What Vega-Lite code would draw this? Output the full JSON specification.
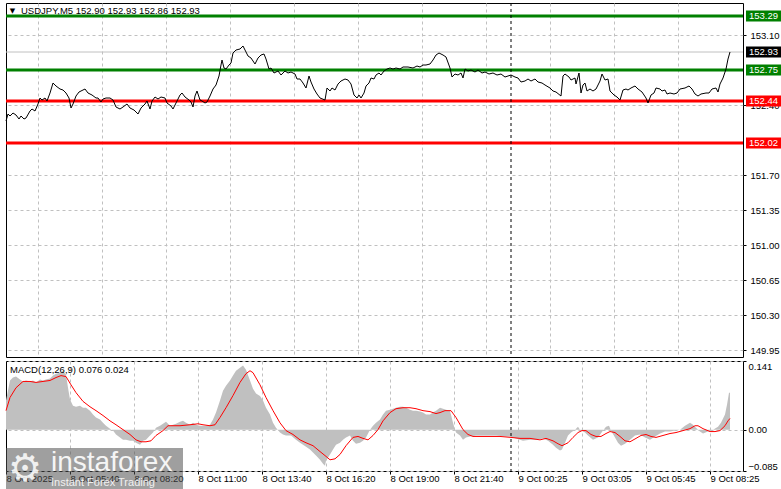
{
  "$schema": "https://vega.github.io/schema/vega-lite/v6.json",
  "background": "white",
  "padding": {"left": 3, "top": 2, "right": 0, "bottom": 0},
  "spacing": 2,
  "config": {
    "view": {"stroke": "#000000", "strokeWidth": 1},
    "font": "Liberation Sans",
    "axis": {"labelFont": "Liberation Sans", "labelFontSize": 9.5, "labelColor": "#000000", "gridColor": "#c0c0c0", "gridDash": [3, 3], "gridWidth": 1, "tickColor": "#000000", "domain": false, "labelOverlap": false},
    "text": {"font": "Liberation Sans", "fontSize": 9.5}
  },
  "datasets": {
    "price": [
      {"t":0,"v":152.24},{"t":1,"v":152.31},{"t":2,"v":152.29},{"t":3.5,"v":152.32},{"t":5,"v":152.30},{"t":6.5,"v":152.26},{"t":7.5,"v":152.29},{"t":9,"v":152.26},{"t":10,"v":152.27},{"t":12,"v":152.34},{"t":13,"v":152.36},{"t":14.5,"v":152.34},{"t":16,"v":152.41},{"t":17,"v":152.47},{"t":18,"v":152.45},{"t":19.5,"v":152.47},{"t":20.5,"v":152.44},{"t":22,"v":152.52},{"t":23.5,"v":152.62},{"t":25,"v":152.59},{"t":27,"v":152.56},{"t":28.5,"v":152.55},{"t":30,"v":152.52},{"t":31.5,"v":152.47},{"t":32.5,"v":152.37},{"t":33.5,"v":152.41},{"t":35,"v":152.49},{"t":36.5,"v":152.53},{"t":37.5,"v":152.54},{"t":39.5,"v":152.56},{"t":41,"v":152.52},{"t":43,"v":152.50},{"t":45,"v":152.47},{"t":46,"v":152.47},{"t":47.5,"v":152.43},{"t":48.5,"v":152.46},{"t":50,"v":152.47},{"t":52,"v":152.47},{"t":53.5,"v":152.45},{"t":55,"v":152.38},{"t":57,"v":152.36},{"t":58.5,"v":152.38},{"t":60.5,"v":152.41},{"t":62,"v":152.37},{"t":64,"v":152.35},{"t":66,"v":152.31},{"t":67.5,"v":152.37},{"t":69.5,"v":152.41},{"t":70.5,"v":152.44},{"t":72,"v":152.36},{"t":73,"v":152.44},{"t":74.5,"v":152.48},{"t":76,"v":152.46},{"t":77.5,"v":152.48},{"t":79.5,"v":152.47},{"t":80.5,"v":152.42},{"t":82.5,"v":152.39},{"t":83.5,"v":152.36},{"t":85,"v":152.42},{"t":87,"v":152.50},{"t":88,"v":152.52},{"t":89.5,"v":152.48},{"t":91.5,"v":152.45},{"t":92.5,"v":152.43},{"t":93.5,"v":152.38},{"t":94.5,"v":152.49},{"t":95.5,"v":152.54},{"t":97,"v":152.45},{"t":98,"v":152.44},{"t":99.5,"v":152.42},{"t":100.5,"v":152.43},{"t":102,"v":152.49},{"t":103.5,"v":152.56},{"t":105,"v":152.60},{"t":106.5,"v":152.69},{"t":107.5,"v":152.80},{"t":108,"v":152.85},{"t":109,"v":152.77},{"t":110,"v":152.76},{"t":111.5,"v":152.80},{"t":112.5,"v":152.82},{"t":113.5,"v":152.92},{"t":115,"v":152.95},{"t":117,"v":152.96},{"t":118.5,"v":152.99},{"t":119.5,"v":152.95},{"t":121,"v":152.89},{"t":122.5,"v":152.87},{"t":124.5,"v":152.81},{"t":126,"v":152.87},{"t":127.5,"v":152.90},{"t":129,"v":152.91},{"t":130,"v":152.86},{"t":131.5,"v":152.76},{"t":132.5,"v":152.77},{"t":134,"v":152.72},{"t":136,"v":152.74},{"t":137.5,"v":152.70},{"t":139.5,"v":152.74},{"t":141,"v":152.72},{"t":142.5,"v":152.73},{"t":144.5,"v":152.71},{"t":145.5,"v":152.66},{"t":147,"v":152.66},{"t":148.5,"v":152.62},{"t":150,"v":152.57},{"t":151.5,"v":152.69},{"t":152.5,"v":152.63},{"t":154,"v":152.56},{"t":155.5,"v":152.51},{"t":157,"v":152.47},{"t":159.5,"v":152.45},{"t":160.5,"v":152.57},{"t":162,"v":152.54},{"t":163,"v":152.57},{"t":164.5,"v":152.55},{"t":166,"v":152.61},{"t":167.5,"v":152.64},{"t":169.5,"v":152.66},{"t":171,"v":152.65},{"t":172.5,"v":152.61},{"t":174,"v":152.50},{"t":175.5,"v":152.47},{"t":176.5,"v":152.50},{"t":177.5,"v":152.47},{"t":179,"v":152.52},{"t":180,"v":152.59},{"t":181.5,"v":152.62},{"t":182.5,"v":152.67},{"t":184,"v":152.66},{"t":185,"v":152.70},{"t":186.5,"v":152.72},{"t":187.5,"v":152.70},{"t":189,"v":152.74},{"t":190.5,"v":152.76},{"t":192,"v":152.77},{"t":193.5,"v":152.76},{"t":195,"v":152.77},{"t":197,"v":152.76},{"t":198.5,"v":152.78},{"t":201,"v":152.78},{"t":203.5,"v":152.77},{"t":205.5,"v":152.79},{"t":207,"v":152.78},{"t":208.5,"v":152.80},{"t":210,"v":152.80},{"t":212,"v":152.81},{"t":213.5,"v":152.85},{"t":215,"v":152.90},{"t":216.5,"v":152.92},{"t":218.5,"v":152.90},{"t":220,"v":152.88},{"t":222,"v":152.77},{"t":223,"v":152.68},{"t":224.5,"v":152.71},{"t":226,"v":152.70},{"t":227.5,"v":152.72},{"t":228.5,"v":152.67},{"t":229.5,"v":152.76},{"t":231,"v":152.74},{"t":232.5,"v":152.75},{"t":234.5,"v":152.73},{"t":236,"v":152.75},{"t":238,"v":152.72},{"t":239.5,"v":152.73},{"t":241.5,"v":152.71},{"t":243.5,"v":152.72},{"t":245.5,"v":152.70},{"t":247.5,"v":152.71},{"t":249.5,"v":152.68},{"t":251,"v":152.69},{"t":252.5,"v":152.70},{"t":254.5,"v":152.68},{"t":256,"v":152.67},{"t":257.5,"v":152.63},{"t":259.5,"v":152.64},{"t":261,"v":152.66},{"t":262.5,"v":152.64},{"t":264.5,"v":152.66},{"t":266,"v":152.63},{"t":268,"v":152.62},{"t":269.5,"v":152.60},{"t":272,"v":152.57},{"t":273.5,"v":152.54},{"t":275,"v":152.53},{"t":277.5,"v":152.49},{"t":278.5,"v":152.69},{"t":279.5,"v":152.71},{"t":281.5,"v":152.68},{"t":282.5,"v":152.65},{"t":284.5,"v":152.67},{"t":285,"v":152.61},{"t":286.5,"v":152.72},{"t":287.5,"v":152.52},{"t":288.5,"v":152.60},{"t":289.5,"v":152.62},{"t":290.5,"v":152.54},{"t":292,"v":152.56},{"t":293.5,"v":152.54},{"t":295,"v":152.56},{"t":297,"v":152.64},{"t":298,"v":152.71},{"t":299.5,"v":152.65},{"t":301,"v":152.66},{"t":302,"v":152.54},{"t":304,"v":152.50},{"t":305.5,"v":152.48},{"t":307,"v":152.45},{"t":308.5,"v":152.55},{"t":310,"v":152.56},{"t":311,"v":152.55},{"t":312.5,"v":152.57},{"t":314.5,"v":152.59},{"t":316,"v":152.56},{"t":318,"v":152.53},{"t":320,"v":152.47},{"t":321,"v":152.42},{"t":322.5,"v":152.50},{"t":324,"v":152.52},{"t":325,"v":152.57},{"t":327,"v":152.56},{"t":328,"v":152.54},{"t":329.5,"v":152.55},{"t":330.5,"v":152.51},{"t":332,"v":152.52},{"t":334,"v":152.51},{"t":335.5,"v":152.52},{"t":337,"v":152.56},{"t":339.5,"v":152.57},{"t":341.5,"v":152.59},{"t":343,"v":152.56},{"t":344.5,"v":152.51},{"t":346,"v":152.49},{"t":347.5,"v":152.51},{"t":350,"v":152.52},{"t":351.5,"v":152.52},{"t":353,"v":152.56},{"t":355,"v":152.57},{"t":356,"v":152.53},{"t":357,"v":152.61},{"t":358.5,"v":152.67},{"t":360,"v":152.76},{"t":361,"v":152.86},{"t":362,"v":152.93}
    ],
    "levels": [
      {"v": 153.29, "side": "buy"},
      {"v": 152.75, "side": "buy"},
      {"v": 152.44, "side": "sell"},
      {"v": 152.02, "side": "sell"}
    ],
    "bid": [{"v": 152.93}],
    "tags": [
      {"v": 153.29, "side": "buy"},
      {"v": 152.93, "side": "bid"},
      {"v": 152.75, "side": "buy"},
      {"v": 152.44, "side": "sell"},
      {"v": 152.02, "side": "sell"}
    ],
    "sep": [{"t": 252.5}],
    "hist": [
      {"t":0,"v":0.060},{"t":2,"v":0.101},{"t":3.5,"v":0.107},{"t":5,"v":0.109},{"t":7,"v":0.103},{"t":8.5,"v":0.099},{"t":10,"v":0.101},{"t":12,"v":0.099},{"t":13.5,"v":0.101},{"t":15,"v":0.097},{"t":17,"v":0.103},{"t":18.5,"v":0.101},{"t":20,"v":0.103},{"t":22,"v":0.105},{"t":23.5,"v":0.111},{"t":25,"v":0.115},{"t":27,"v":0.117},{"t":28.5,"v":0.121},{"t":30,"v":0.113},{"t":31,"v":0.086},{"t":32,"v":0.062},{"t":33.5,"v":0.049},{"t":35,"v":0.047},{"t":37,"v":0.049},{"t":38.5,"v":0.045},{"t":40,"v":0.045},{"t":42,"v":0.039},{"t":43.5,"v":0.031},{"t":45,"v":0.025},{"t":47,"v":0.021},{"t":48.5,"v":0.014},{"t":50,"v":0.008},{"t":52,"v":0.002},{"t":53.5,"v":-0.002},{"t":55,"v":-0.010},{"t":57,"v":-0.016},{"t":58.5,"v":-0.021},{"t":60,"v":-0.021},{"t":62,"v":-0.023},{"t":63.5,"v":-0.023},{"t":65,"v":-0.027},{"t":67,"v":-0.031},{"t":68.5,"v":-0.023},{"t":70,"v":-0.021},{"t":72,"v":-0.012},{"t":73.5,"v":-0.006},{"t":75,"v":0.004},{"t":77,"v":0.008},{"t":78.5,"v":0.012},{"t":80,"v":0.016},{"t":82,"v":0.008},{"t":83.5,"v":0.010},{"t":85,"v":0.012},{"t":87,"v":0.016},{"t":88.5,"v":0.018},{"t":90,"v":0.014},{"t":92,"v":0.010},{"t":93.5,"v":0.014},{"t":95,"v":0.010},{"t":97,"v":0.008},{"t":98.5,"v":0.008},{"t":100,"v":0.008},{"t":102,"v":0.010},{"t":103.5,"v":0.021},{"t":105,"v":0.035},{"t":107,"v":0.060},{"t":108.5,"v":0.080},{"t":110,"v":0.090},{"t":112,"v":0.101},{"t":113.5,"v":0.111},{"t":115,"v":0.121},{"t":117,"v":0.127},{"t":118.5,"v":0.132},{"t":120,"v":0.123},{"t":122,"v":0.101},{"t":123.5,"v":0.084},{"t":125,"v":0.074},{"t":127,"v":0.069},{"t":128.5,"v":0.060},{"t":130,"v":0.045},{"t":132,"v":0.031},{"t":133.5,"v":0.014},{"t":135,"v":0.004},{"t":137,"v":-0.006},{"t":138.5,"v":-0.010},{"t":140,"v":-0.012},{"t":142.5,"v":-0.012},{"t":145,"v":-0.021},{"t":147,"v":-0.027},{"t":148.5,"v":-0.031},{"t":150,"v":-0.035},{"t":152,"v":-0.041},{"t":153.5,"v":-0.047},{"t":155,"v":-0.053},{"t":157,"v":-0.062},{"t":158.5,"v":-0.070},{"t":159.5,"v":-0.074},{"t":160,"v":-0.064},{"t":162,"v":-0.051},{"t":163.5,"v":-0.041},{"t":165,"v":-0.031},{"t":167,"v":-0.027},{"t":168.5,"v":-0.021},{"t":170,"v":-0.016},{"t":172,"v":-0.012},{"t":173.5,"v":-0.023},{"t":175,"v":-0.029},{"t":177,"v":-0.027},{"t":178.5,"v":-0.023},{"t":180,"v":-0.016},{"t":182,"v":0.000},{"t":183.5,"v":0.008},{"t":185,"v":0.014},{"t":187,"v":0.021},{"t":188.5,"v":0.031},{"t":190,"v":0.039},{"t":192,"v":0.041},{"t":193.5,"v":0.043},{"t":195,"v":0.045},{"t":197,"v":0.047},{"t":198.5,"v":0.047},{"t":200,"v":0.045},{"t":202,"v":0.041},{"t":203.5,"v":0.039},{"t":205,"v":0.039},{"t":207,"v":0.037},{"t":208.5,"v":0.035},{"t":210,"v":0.031},{"t":212,"v":0.031},{"t":213.5,"v":0.035},{"t":215,"v":0.039},{"t":217,"v":0.045},{"t":218.5,"v":0.043},{"t":220,"v":0.041},{"t":222,"v":0.039},{"t":223.5,"v":0.014},{"t":224.5,"v":0.000},{"t":225,"v":-0.006},{"t":227,"v":-0.012},{"t":228.5,"v":-0.021},{"t":230,"v":-0.016},{"t":232,"v":-0.014},{"t":235,"v":-0.012},{"t":240,"v":-0.012},{"t":245,"v":-0.012},{"t":250,"v":-0.014},{"t":252,"v":-0.014},{"t":255,"v":-0.018},{"t":258.5,"v":-0.023},{"t":262,"v":-0.021},{"t":265,"v":-0.021},{"t":268.5,"v":-0.018},{"t":271,"v":-0.023},{"t":273.5,"v":-0.031},{"t":275,"v":-0.037},{"t":277,"v":-0.043},{"t":278,"v":-0.041},{"t":279.5,"v":-0.027},{"t":281,"v":-0.012},{"t":282.5,"v":-0.006},{"t":284.5,"v":0.000},{"t":286,"v":0.006},{"t":287,"v":0.000},{"t":289.5,"v":-0.006},{"t":291,"v":-0.012},{"t":293.5,"v":-0.021},{"t":296,"v":-0.016},{"t":298.5,"v":-0.002},{"t":300,"v":0.006},{"t":301.5,"v":0.008},{"t":302.5,"v":-0.002},{"t":304.5,"v":-0.016},{"t":306,"v":-0.027},{"t":307.5,"v":-0.033},{"t":309.5,"v":-0.029},{"t":312,"v":-0.021},{"t":314.5,"v":-0.012},{"t":317,"v":-0.010},{"t":319.5,"v":-0.016},{"t":322,"v":-0.021},{"t":324.5,"v":-0.014},{"t":327,"v":-0.008},{"t":329.5,"v":-0.004},{"t":332,"v":-0.004},{"t":334.5,"v":-0.002},{"t":337,"v":0.000},{"t":339.5,"v":0.008},{"t":342,"v":0.014},{"t":343.5,"v":0.010},{"t":345,"v":0.004},{"t":347,"v":-0.004},{"t":348.5,"v":-0.008},{"t":351,"v":-0.004},{"t":353.5,"v":0.000},{"t":356,"v":0.006},{"t":357.5,"v":0.014},{"t":359.5,"v":0.031},{"t":360.5,"v":0.051},{"t":361.5,"v":0.076},{"t":362,"v":0.076}
    ],
    "signal": [
      {"t":0,"v":0.039},{"t":2,"v":0.066},{"t":5,"v":0.086},{"t":8.5,"v":0.099},{"t":12,"v":0.099},{"t":15,"v":0.097},{"t":18.5,"v":0.099},{"t":22,"v":0.101},{"t":25,"v":0.107},{"t":27.5,"v":0.111},{"t":30,"v":0.109},{"t":32.5,"v":0.092},{"t":35,"v":0.076},{"t":38.5,"v":0.058},{"t":42,"v":0.047},{"t":45,"v":0.039},{"t":48.5,"v":0.029},{"t":52,"v":0.018},{"t":55,"v":0.010},{"t":58.5,"v":0.000},{"t":62,"v":-0.010},{"t":65,"v":-0.021},{"t":67.5,"v":-0.025},{"t":70,"v":-0.025},{"t":72.5,"v":-0.023},{"t":75,"v":-0.012},{"t":78.5,"v":-0.002},{"t":81,"v":0.008},{"t":83.5,"v":0.008},{"t":87,"v":0.008},{"t":92,"v":0.010},{"t":96,"v":0.012},{"t":98.5,"v":0.010},{"t":102,"v":0.008},{"t":104.5,"v":0.010},{"t":107,"v":0.025},{"t":110,"v":0.045},{"t":113.5,"v":0.070},{"t":117,"v":0.097},{"t":120,"v":0.115},{"t":122,"v":0.121},{"t":123.5,"v":0.117},{"t":127,"v":0.092},{"t":130,"v":0.066},{"t":133.5,"v":0.039},{"t":137,"v":0.014},{"t":140,"v":-0.002},{"t":143.5,"v":-0.010},{"t":147,"v":-0.021},{"t":150,"v":-0.027},{"t":153.5,"v":-0.033},{"t":157,"v":-0.045},{"t":160,"v":-0.055},{"t":162,"v":-0.062},{"t":164.5,"v":-0.060},{"t":167,"v":-0.051},{"t":170,"v":-0.033},{"t":173.5,"v":-0.016},{"t":176,"v":-0.014},{"t":178.5,"v":-0.018},{"t":181,"v":-0.021},{"t":183.5,"v":-0.012},{"t":186,"v":0.000},{"t":188.5,"v":0.018},{"t":192,"v":0.035},{"t":195,"v":0.043},{"t":198.5,"v":0.045},{"t":202,"v":0.045},{"t":205,"v":0.043},{"t":208.5,"v":0.039},{"t":212,"v":0.037},{"t":215,"v":0.033},{"t":217,"v":0.035},{"t":219.5,"v":0.039},{"t":222.5,"v":0.039},{"t":225,"v":0.025},{"t":228.5,"v":0.000},{"t":231,"v":-0.010},{"t":233.5,"v":-0.014},{"t":240,"v":-0.014},{"t":247,"v":-0.014},{"t":252.5,"v":-0.016},{"t":257,"v":-0.018},{"t":262,"v":-0.018},{"t":267,"v":-0.021},{"t":270,"v":-0.018},{"t":273.5,"v":-0.023},{"t":276,"v":-0.029},{"t":278,"v":-0.033},{"t":281,"v":-0.027},{"t":283.5,"v":-0.016},{"t":286,"v":-0.006},{"t":288,"v":-0.002},{"t":290,"v":-0.002},{"t":292.5,"v":-0.010},{"t":295,"v":-0.014},{"t":297.5,"v":-0.014},{"t":300,"v":-0.008},{"t":302,"v":-0.004},{"t":304.5,"v":-0.006},{"t":307,"v":-0.014},{"t":309.5,"v":-0.023},{"t":312,"v":-0.025},{"t":315,"v":-0.018},{"t":317.5,"v":-0.012},{"t":320,"v":-0.010},{"t":322.5,"v":-0.014},{"t":325,"v":-0.016},{"t":328.5,"v":-0.012},{"t":332,"v":-0.008},{"t":335,"v":-0.006},{"t":338.5,"v":-0.002},{"t":342,"v":0.002},{"t":344.5,"v":0.008},{"t":346,"v":0.008},{"t":348.5,"v":0.002},{"t":352,"v":-0.004},{"t":354.5,"v":-0.004},{"t":357,"v":-0.002},{"t":359.5,"v":0.008},{"t":361,"v":0.018},{"t":362,"v":0.023}
    ]
  },
  "vconcat": [
    {
      "width": 737,
      "height": 354,
      "layer": [
        {
          "data": {"values": [{"label": "USDJPY,M5  152.90 152.93 152.86 152.93"}]},
          "mark": {"type": "text", "align": "left", "baseline": "middle", "color": "#000000", "fontSize": 9.5},
          "encoding": {
            "x": {"datum": 7.5, "type": "quantitative", "title": null},
            "y": {"datum": 153.34, "type": "quantitative", "title": null},
            "text": {"field": "label"}
          }
        },
        {
          "data": {"values": [{"label": "▼"}]},
          "mark": {"type": "text", "align": "center", "baseline": "middle", "color": "#000000", "fontSize": 7, "font": "DejaVu Sans"},
          "encoding": {
            "x": {"datum": 3.25, "type": "quantitative", "title": null},
            "y": {"datum": 153.34, "type": "quantitative", "title": null},
            "text": {"field": "label"}
          }
        },
        {
          "data": {"name": "bid"},
          "mark": {"type": "rule", "color": "#c0c0c0", "strokeWidth": 1},
          "encoding": {
            "y": {"field": "v", "type": "quantitative", "title": null}
          }
        },
        {
          "data": {"name": "levels"},
          "mark": {"type": "rule", "strokeWidth": 3},
          "encoding": {
            "y": {"field": "v", "type": "quantitative", "title": null},
            "color": {"field": "side", "type": "nominal", "scale": {"domain": ["buy", "sell", "bid"], "range": ["#008000", "#ff0000", "#000000"]}, "legend": null}
          }
        },
        {
          "data": {"name": "sep"},
          "mark": {"type": "rule", "color": "#000000", "strokeWidth": 1, "strokeDash": [3, 3]},
          "encoding": {
            "x": {"field": "t", "type": "quantitative", "title": null}
          }
        },
        {
          "data": {"name": "price"},
          "mark": {"type": "line", "color": "#000000", "strokeWidth": 1},
          "encoding": {
            "x": {"field": "t", "type": "quantitative", "title": null, "scale": {"domain": [0, 368.5], "nice": false, "zero": false},
              "axis": {"values": [16, 32, 48, 64, 80, 96, 112, 128, 144, 160, 176, 192, 208, 224, 240, 256, 272, 288, 304, 320, 336, 352], "labels": false, "ticks": false, "domain": false, "grid": true, "title": null}},
            "y": {"field": "v", "type": "quantitative", "title": null, "scale": {"domain": [149.88, 153.42], "nice": false, "zero": false},
              "axis": {"orient": "right", "values": [153.10, 152.40, 151.70, 151.35, 151.00, 150.65, 150.30, 149.95], "format": ".2f", "grid": true, "ticks": true, "tickSize": 3, "labelPadding": 4, "labelAlign": "left", "labelBaseline": "middle", "labelOverlap": false, "labelBound": false, "title": null}}
          }
        },
        {
          "data": {"name": "tags"},
          "mark": {"type": "tick", "orient": "horizontal", "size": 35, "thickness": 11, "opacity": 1},
          "encoding": {
            "x": {"datum": 378.75, "type": "quantitative", "title": null},
            "y": {"field": "v", "type": "quantitative", "title": null},
            "color": {"field": "side", "type": "nominal", "scale": {"domain": ["buy", "sell", "bid"], "range": ["#008000", "#ff0000", "#000000"]}, "legend": null}
          }
        },
        {
          "data": {"name": "tags"},
          "mark": {"type": "text", "align": "center", "baseline": "middle", "color": "#ffffff", "fontSize": 9.5},
          "encoding": {
            "x": {"datum": 378.75, "type": "quantitative", "title": null},
            "y": {"field": "v", "type": "quantitative", "title": null},
            "text": {"field": "v", "type": "quantitative", "format": ".2f"}
          }
        }
      ]
    },
    {
      "width": 737,
      "height": 110,
      "layer": [
        {
          "data": {"name": "hist"},
          "mark": {"type": "area", "color": "#c0c0c0", "opacity": 1},
          "encoding": {
            "x": {"field": "t", "type": "quantitative", "title": null, "scale": {"domain": [0, 368.5], "nice": false, "zero": false},
              "axis": {"values": [0, 16, 32, 48, 64, 80, 96, 112, 128, 144, 160, 176, 192, 208, 224, 240, 256, 272, 288, 304, 320, 336, 352],
                "labelExpr": "datum.value % 32 === 0 ? ['8 Oct 2025','8 Oct 05:40','8 Oct 08:20','8 Oct 11:00','8 Oct 13:40','8 Oct 16:20','8 Oct 19:00','8 Oct 21:40','9 Oct 00:25','9 Oct 03:05','9 Oct 05:45','9 Oct 08:25'][datum.value / 32] : ''",
                "labelAlign": "left", "labelFlush": false, "labelOverlap": false, "labelBound": false, "labelPadding": -1, "grid": true, "ticks": true, "tickSize": 3,
                "tickOpacity": {"condition": {"test": "datum.value % 32 !== 0", "value": 0}, "value": 1},
                "gridOpacity": {"condition": {"test": "datum.value === 0", "value": 0}, "value": 1},
                "domain": false, "title": null}},
            "y": {"field": "v", "type": "quantitative", "title": null, "scale": {"domain": [-0.085, 0.141], "nice": false, "zero": false},
              "axis": {"orient": "right", "values": [0.141, 0, -0.085], "labelExpr": "abs(datum.value) < 0.000001 ? '0.00' : format(datum.value, '.3f')",
                "grid": true, "ticks": true, "tickSize": 3, "labelPadding": 2, "labelAlign": "left", "labelOverlap": false, "labelBound": false,
                "labelBaseline": {"condition": [{"test": "datum.value > 0.1", "value": "top"}, {"test": "datum.value < -0.05", "value": "bottom"}], "value": "middle"},
                "title": null}},
            "y2": {"datum": 0}
          }
        },
        {
          "data": {"name": "signal"},
          "mark": {"type": "line", "color": "#ff0000", "strokeWidth": 1},
          "encoding": {
            "x": {"field": "t", "type": "quantitative", "title": null},
            "y": {"field": "v", "type": "quantitative", "title": null}
          }
        },
        {
          "data": {"name": "sep"},
          "mark": {"type": "rule", "color": "#000000", "strokeWidth": 1, "strokeDash": [3, 3]},
          "encoding": {
            "x": {"field": "t", "type": "quantitative", "title": null}
          }
        },
        {
          "data": {"values": [{"label": "MACD(12,26,9) 0.076 0.024"}]},
          "mark": {"type": "text", "align": "left", "baseline": "middle", "color": "#000000", "fontSize": 9.5},
          "encoding": {
            "x": {"datum": 2, "type": "quantitative", "title": null},
            "y": {"datum": 0.1235, "type": "quantitative", "title": null},
            "text": {"field": "label"}
          }
        },
        {
          "data": {"values": [{"label": "watermark"}]},
          "mark": {"type": "rect", "color": "#505050", "opacity": 0.55},
          "encoding": {
            "x": {"datum": 0, "type": "quantitative", "title": null},
            "x2": {"datum": 88.5},
            "y": {"datum": -0.038, "type": "quantitative", "title": null},
            "y2": {"datum": -0.13}
          }
        },
        {
          "data": {"values": [{"label": "⚙"}]},
          "mark": {"type": "text", "align": "center", "baseline": "middle", "color": "#ffffff", "fontSize": 38, "font": "DejaVu Sans", "opacity": 0.85},
          "encoding": {
            "x": {"datum": 9.5, "type": "quantitative", "title": null},
            "y": {"datum": -0.083, "type": "quantitative", "title": null},
            "text": {"field": "label"}
          }
        },
        {
          "data": {"values": [{"label": "instaforex"}]},
          "mark": {"type": "text", "align": "left", "baseline": "alphabetic", "color": "#ffffff", "fontSize": 28, "opacity": 0.9},
          "encoding": {
            "x": {"datum": 22.5, "type": "quantitative", "title": null},
            "y": {"datum": -0.085, "type": "quantitative", "title": null},
            "text": {"field": "label"}
          }
        },
        {
          "data": {"values": [{"label": "Instant Forex Trading"}]},
          "mark": {"type": "text", "align": "left", "baseline": "middle", "color": "#ffffff", "fontSize": 11, "opacity": 0.85},
          "encoding": {
            "x": {"datum": 22.5, "type": "quantitative", "title": null},
            "y": {"datum": -0.1097, "type": "quantitative", "title": null},
            "text": {"field": "label"}
          }
        }
      ]
    }
  ]
}
